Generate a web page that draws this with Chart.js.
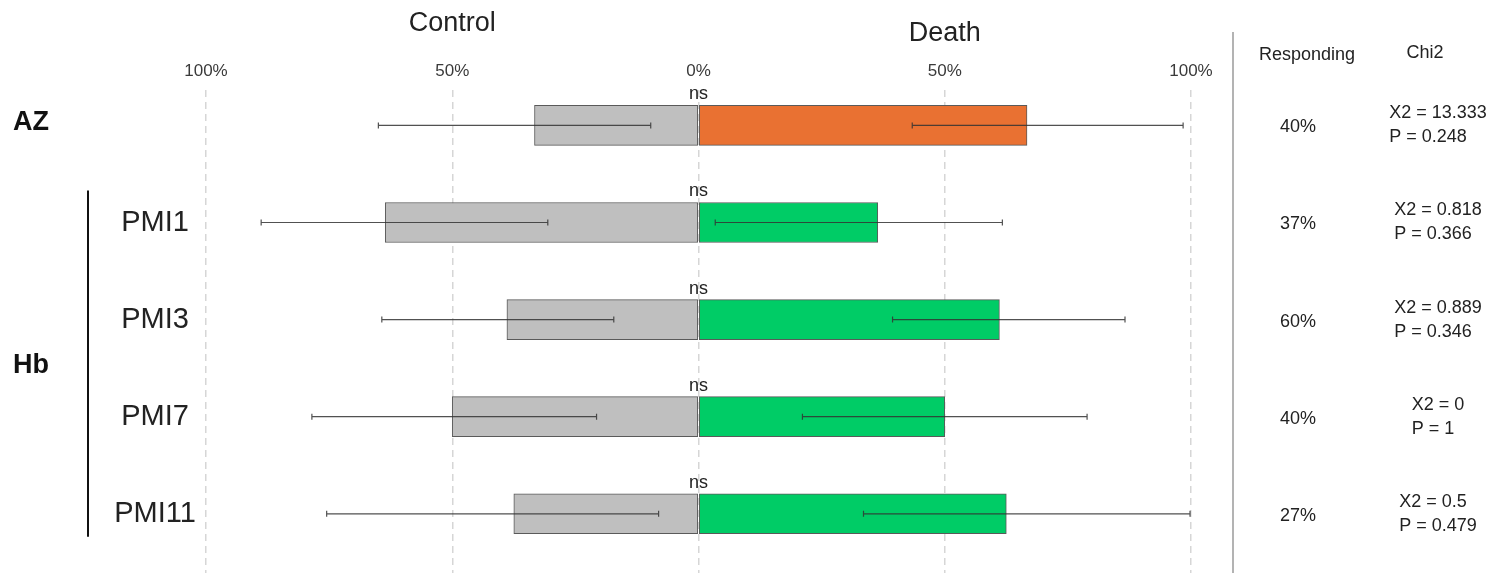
<!DOCTYPE html>
<html>
<head>
<meta charset="utf-8">
<script src="https://cdn.jsdelivr.net/npm/chart.js@4.4.1/dist/chart.umd.min.js"></script>
<style>
  html, body { margin: 0; padding: 0; background: #fff; }
  #wrap { position: relative; width: 1506px; height: 573px; }
</style>
</head>
<body>
<div id="wrap"><canvas id="pmiChart"></canvas></div>
<script>
// data (percent of animals)
const categories = ["AZ", "PMI1", "PMI3", "PMI7", "PMI11"];
const groupNames = ["AZ", "Hb", "Hb", "Hb", "Hb"];
const controlPct = [33.3, 63.6, 38.9, 50, 37.5];
const deathPct = [66.7, 36.4, 61.1, 50, 62.5];
const controlLow = [9.7, 30.6, 17.2, 20.7, 8.1];
const controlHigh = [65, 88.8, 64.3, 78.5, 75.5];
const deathLow = [43.4, 3.4, 39.4, 21.1, 33.5];
const deathHigh = [98.4, 61.7, 86.6, 78.9, 99.8];
const significance = ["ns", "ns", "ns", "ns", "ns"];
const responding = ["40%", "37%", "60%", "40%", "27%"];
const chiSq = ["13.333", "0.818", "0.889", "0", "0.5"];
const pValues = ["0.248", "0.366", "0.346", "1", "0.479"];
const deathColors = ["#e97132", "#00cc66", "#00cc66", "#00cc66", "#00cc66"];

const FONT = "'Liberation Sans', Arial, sans-serif";

function txt(ctx, s, x, y, size, align, color, weight) {
    ctx.save();
    ctx.font = (weight || "normal") + " " + size + "px " + FONT;
    ctx.textAlign = align || "center";
    ctx.textBaseline = "middle";
    ctx.fillStyle = color || "#222";
    ctx.fillText(s, x, y);
    ctx.restore();
}

// error bars, "ns" marks and the side annotations
const annotations = {
    id: "annotations",
    afterDatasetsDraw(chart) {
        const ctx = chart.ctx;
        const xs = chart.scales.x;
        const ys = chart.scales.y;
        ctx.save();
        ctx.strokeStyle = "rgba(50,50,50,0.85)";
        ctx.lineWidth = 1.2;
        categories.forEach((c, i) => {
            const y = ys.getPixelForValue(i);
            [[-controlLow[i], -controlHigh[i]], [deathLow[i], deathHigh[i]]].forEach(([a, b]) => {
                const x1 = xs.getPixelForValue(a);
                const x2 = xs.getPixelForValue(b);
                ctx.beginPath();
                ctx.moveTo(x1, y);
                ctx.lineTo(x2, y);
                ctx.moveTo(x1, y - 3);
                ctx.lineTo(x1, y + 3);
                ctx.moveTo(x2, y - 3);
                ctx.lineTo(x2, y + 3);
                ctx.stroke();
            });
        });
        ctx.restore();
    },
    afterDraw(chart) {
        const ctx = chart.ctx;
        const xs = chart.scales.x;
        const ys = chart.scales.y;
        const x0 = xs.getPixelForValue(0);

        txt(ctx, "Control", xs.getPixelForValue(-50), 24, 27, "center", "#222");
        txt(ctx, "Death", xs.getPixelForValue(50), 34, 27, "center", "#222");
        txt(ctx, "Responding", 1307, 55, 18, "center", "#222");
        txt(ctx, "Chi2", 1425, 53, 18, "center", "#222");

        // separator
        ctx.save();
        ctx.strokeStyle = "#9a9a9a";
        ctx.lineWidth = 1.5;
        ctx.beginPath();
        ctx.moveTo(1233, 32);
        ctx.lineTo(1233, 573);
        ctx.stroke();
        ctx.restore();

        categories.forEach((c, i) => {
            const y = ys.getPixelForValue(i);
            txt(ctx, significance[i], x0, y - 31, 18, "center", "#222");
            if (c !== groupNames[i]) txt(ctx, c, 155, y, 29, "center", "#222");
            txt(ctx, responding[i], 1298, y + 2, 18, "center", "#222");
            const l1 = "X2 = " + chiSq[i];
            const l2 = "P = " + pValues[i];
            ctx.font = "18px " + FONT;
            const w = Math.max(ctx.measureText(l1).width, ctx.measureText(l2).width);
            const left = 1438 - w / 2;
            txt(ctx, l1, left, y - 12, 18, "left", "#222");
            txt(ctx, l2, left, y + 12, 18, "left", "#222");
        });

        // group labels and bracket
        const uniq = [...new Set(groupNames)];
        uniq.forEach(g => {
            const idx = groupNames.map((n, i) => n === g ? i : -1).filter(i => i >= 0);
            const yA = ys.getPixelForValue(idx[0]);
            const yB = ys.getPixelForValue(idx[idx.length - 1]);
            txt(ctx, g, 13, (yA + yB) / 2 - 3, 27, "left", "#111", "bold");
            if (idx.length > 1) {
                ctx.save();
                ctx.strokeStyle = "#111";
                ctx.lineWidth = 2;
                ctx.beginPath();
                ctx.moveTo(88, yA - 32);
                ctx.lineTo(88, yB + 23);
                ctx.stroke();
                ctx.restore();
            }
        });
    }
};

const ctx = document.getElementById("pmiChart").getContext("2d");
new Chart(ctx, {
    type: "bar",
    data: {
        datasets: [
            {
                label: "Control",
                data: categories.map((c, i) => ({ x: -controlPct[i], y: i })),
                backgroundColor: "#bfbfbf",
                borderColor: "#5a5a5a",
                borderWidth: 1,
                borderSkipped: false,
                barThickness: 40,
                grouped: false,
            },
            {
                label: "Death",
                data: categories.map((c, i) => ({ x: deathPct[i], y: i })),
                backgroundColor: deathColors,
                borderColor: "#5a5a5a",
                borderWidth: 1,
                borderSkipped: false,
                barThickness: 40,
                grouped: false,
            },
        ],
    },
    options: {
        indexAxis: "y",
        responsive: true,
        maintainAspectRatio: false,
        animation: false,
        layout: { padding: { left: 206, right: 315, top: 0, bottom: 0 } },
        plugins: {
            legend: { display: false },
            tooltip: { enabled: false },
        },
        scales: {
            x: {
                type: "linear",
                position: "top",
                min: -100,
                max: 100,
                stacked: true,
                afterFit: (s) => { s.height = 90; },
                ticks: {
                    stepSize: 50,
                    padding: 8,
                    color: "#3a3a3a",
                    font: { family: FONT, size: 17 },
                    callback: (v) => Math.abs(v) + "%",
                },
                grid: {
                    color: "#d6d6d6",
                    lineWidth: 1.5,
                    drawTicks: false,
                },
                border: { display: false, dash: [7, 5] },
            },
            y: {
                type: "linear",
                reverse: true,
                offset: false,
                min: -0.365,
                max: 4.61,
                stacked: true,
                display: false,
                grid: { offset: false },
            },
        },
    },
    plugins: [annotations],
});
</script>
</body>
</html>
